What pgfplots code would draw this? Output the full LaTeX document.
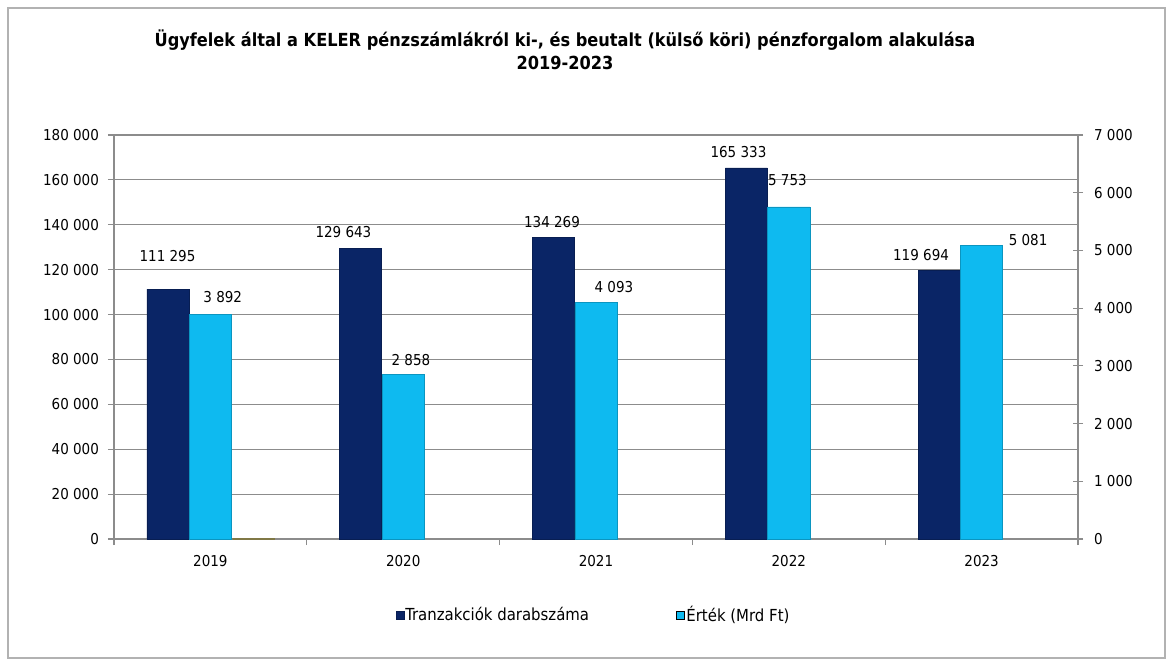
\documentclass[border=0pt]{standalone}
\usepackage{fontspec}
\setmainfont{DejaVu Sans Condensed}
\usepackage{pgfplots}
\pgfplotsset{compat=1.18}
\definecolor{navyb}{RGB}{10,37,102}
\definecolor{cyanb}{RGB}{14,186,240}
\definecolor{gridc}{RGB}{140,140,140}
\definecolor{olivec}{RGB}{128,120,70}
\pgfplotsset{numfmt/.style={/pgf/number format/fixed, /pgf/number format/1000 sep={\ }, /pgf/number format/assume math mode=true}}
\begin{document}
\begin{tikzpicture}[font=\fontsize{7.5pt}{9pt}\selectfont]
\useasboundingbox (0,0) rectangle (586.5pt,333pt);
\fill[white] (0,0) rectangle (586.5pt,333pt);
\draw[gray!60, line width=0.6pt] (4pt,4pt) rectangle (582.5pt,329pt);
\node[font=\fontsize{9pt}{11.5pt}\selectfont\bfseries, align=center] at (282.5pt,308.25pt)
  {Ügyfelek által a KELER pénzszámlákról ki-, és beutalt (külső köri) pénzforgalom alakulása\\2019-2023};
\begin{axis}[
  at={(57pt,63.5pt)}, anchor=south west,
  scale only axis, width=482pt, height=202pt,
  xmin=-0.5, xmax=4.5, ymin=0, ymax=180000,
  axis x line*=bottom, axis y line*=left,
  axis line style={gridc, line width=0.6pt},
  xtick={0,1,2,3,4}, xticklabels={2019,2020,2021,2022,2023},
  major x tick style={draw=none},
  minor xtick={-0.5,0.5,1.5,2.5,3.5,4.5},
  minor x tick style={gridc, line width=0.6pt},
  minor tick length=3pt,
  ytick={0,20000,...,180000},
  major y tick style={gridc, line width=0.6pt},
  major tick length=3pt,
  tick align=outside,
  ymajorgrids, grid style={gridc, line width=0.6pt},
  scaled y ticks=false,
  yticklabel style={numfmt, xshift=-1pt},
  xticklabel style={yshift=-1.5pt},
  legend image code/.code={\fill[#1] (0pt,-2pt) rectangle (4pt,2pt);},
  legend style={at={(0.497,-0.188)}, anchor=center, draw=none, fill=none,
    font=\fontsize{8.3pt}{10pt}\selectfont,
    legend columns=2, /tikz/every even column/.append style={column sep=43pt},
    nodes={inner sep=0.6pt}},
]
\addplot[ybar, bar width=0.218, bar shift=-0.22, fill=navyb, draw=navyb!80!black, line width=0.3pt]
  coordinates {(0,111295) (1,129643) (2,134269) (3,165333) (4,119694)};
\addlegendentry{Tranzakciók darabszáma}
\addlegendimage{fill=cyanb}
\addlegendentry{Érték (Mrd Ft)}
\node at (axis cs:-0.2225,126090) {111 295};
\node at (axis cs:0.690,136780) {129 643};
\node at (axis cs:1.772,141240) {134 269};
\node at (axis cs:2.739,172430) {165 333};
\node at (axis cs:3.686,126530) {119 694};
\end{axis}
\begin{axis}[
  at={(57pt,63.5pt)}, anchor=south west,
  scale only axis, width=482pt, height=202pt,
  xmin=-0.5, xmax=4.5, ymin=0, ymax=7000,
  axis y line*=right, axis x line=none,
  axis line style={gridc, line width=0.6pt},
  ytick={0,1000,...,7000},
  major y tick style={gridc, line width=0.6pt},
  major tick length=5pt, tick align=center,
  scaled y ticks=false,
  yticklabel style={numfmt, xshift=2pt},
]
\addplot[ybar, bar width=0.218, bar shift=0, fill=cyanb, draw=cyanb!80!black, line width=0.3pt]
  coordinates {(0,3892) (1,2858) (2,4093) (3,5753) (4,5081)};
\addplot[ybar, bar width=0.22, bar shift=0.224, fill=none, draw=olivec, line width=0.8pt]
  coordinates {(0,0)};
\node at (axis cs:0.064,4193) {3 892};
\node at (axis cs:1.04,3101) {2 858};
\node at (axis cs:2.093,4366) {4 093};
\node at (axis cs:2.993,6220) {5 753};
\node at (axis cs:4.241,5181) {5 081};
\end{axis}
\end{tikzpicture}
\end{document}
